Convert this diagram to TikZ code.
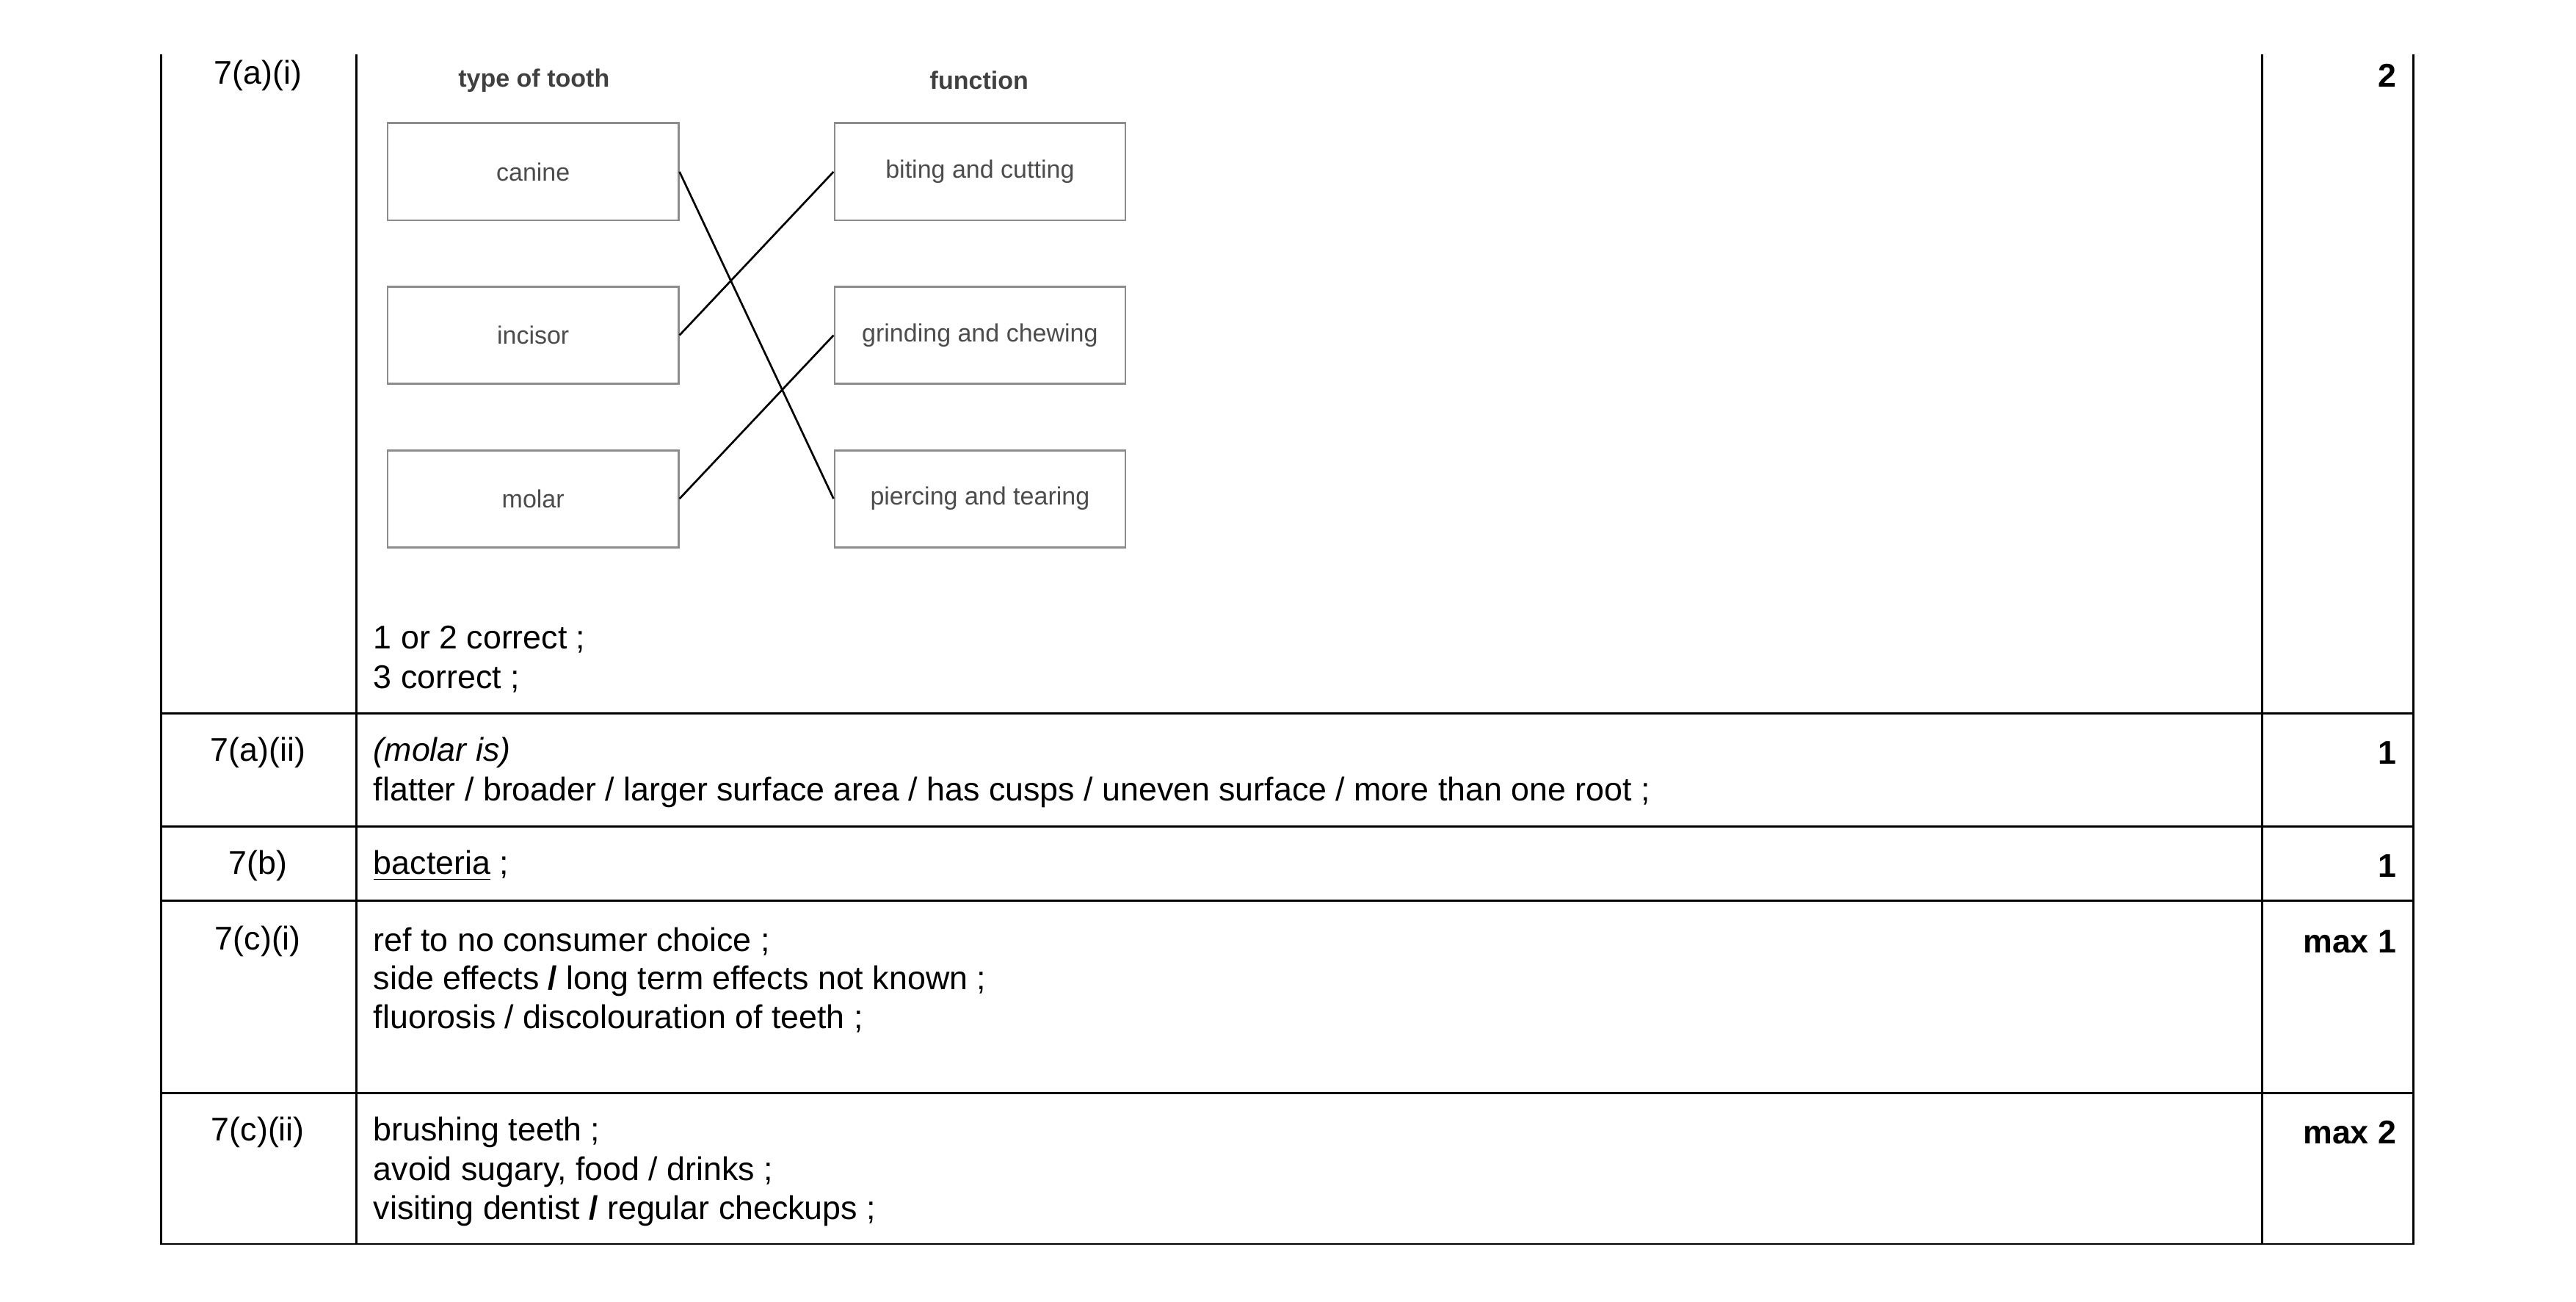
\documentclass[tikz,border=0pt]{standalone}
\usepackage{fontspec}
\setmainfont{Liberation Sans}
\begin{document}
\begin{tikzpicture}[x=0.5pt,y=-0.5pt,
  grid/.style={line width=0.6pt,black},
  txt/.style={anchor=west,inner sep=0pt,font=\fontsize{10}{12}\selectfont},
  lbl/.style={inner sep=0pt,font=\fontsize{10}{12}\selectfont},
  mk/.style={anchor=east,inner sep=0pt,font=\fontsize{10}{12}\selectfont\bfseries},
  box/.style={draw=black!45,line width=0.6pt,minimum width=88.5pt,minimum height=29.5pt,inner sep=0pt,font=\fontsize{7.6}{8}\selectfont,text=black!70},
  head/.style={inner sep=0pt,font=\fontsize{7.6}{8}\selectfont\bfseries,text=black!75},
  link/.style={line width=0.6pt,black}]
\useasboundingbox (0,0) rectangle (1568,792);
% grid
\draw[grid] (98,33) -- (98,757) -- (1469,757) -- (1469,33);
\draw[grid] (217,33) -- (217,757);
\draw[grid] (1377,33) -- (1377,757);
\foreach \y in {434,503,548,665} \draw[grid] (98,\y) -- (1469,\y);
% labels
\node[lbl] (l1) at (157,46) {7(a)(i)};
\node[lbl] (l2) at (157,458) {7(a)(ii)};
\node[lbl] (l3) at (157,527) {7(b)};
\node[lbl] (l4) at (157,573) {7(c)(i)};
\node[lbl] (l5) at (157,689) {7(c)(ii)};
\node[mk] (m1) at (1459,46) {2};
\node[mk] (m2) at (1459,458) {1};
\node[mk] (m3) at (1459,527) {1};
\node[mk] (m4) at (1459,573) {max 1};
\node[mk] (m5) at (1459,689) {max 2};
% diagram
\node[head] (h1) at (325,49) {type of tooth};
\node[head] (h2) at (596,49) {function};
\node[box] (canine) at (324.5,104.5) {canine};
\node[box] (incisor) at (324.5,204) {incisor};
\node[box] (molar) at (324.5,303.5) {molar};
\node[box] (biting) at (596.5,104.5) {biting and cutting};
\node[box] (grinding) at (596.5,204) {grinding and chewing};
\node[box] (piercing) at (596.5,303.5) {piercing and tearing};
\draw[link] (canine.east) -- (piercing.west);
\draw[link] (incisor.east) -- (biting.west);
\draw[link] (molar.east) -- (grinding.west);
% texts
\node[txt] (t1) at (227,389) {1 or 2 correct ;};
\node[txt] (t2) at (227,413) {3 correct ;};
\node[txt] (t3) at (227,458) {\itshape (molar is)};
\node[txt] (t4) at (227,482) {flatter / broader / larger surface area / has cusps / uneven surface / more than one root ;};
\node[txt] (t5) at (227,527) {\underline{bacteria} ;};
\node[txt] (t6) at (227,573) {ref to no consumer choice ;};
\node[txt] (t7) at (227,597) {side effects \textbf{/} long term effects not known ;};
\node[txt] (t8) at (227,620) {fluorosis / discolouration of teeth ;};
\node[txt] (t9) at (227,689) {brushing teeth ;};
\node[txt] (t10) at (227,713) {avoid sugary, food / drinks ;};
\node[txt] (t11) at (227,737) {visiting dentist \textbf{/} regular checkups ;};
\end{tikzpicture}
\end{document}
